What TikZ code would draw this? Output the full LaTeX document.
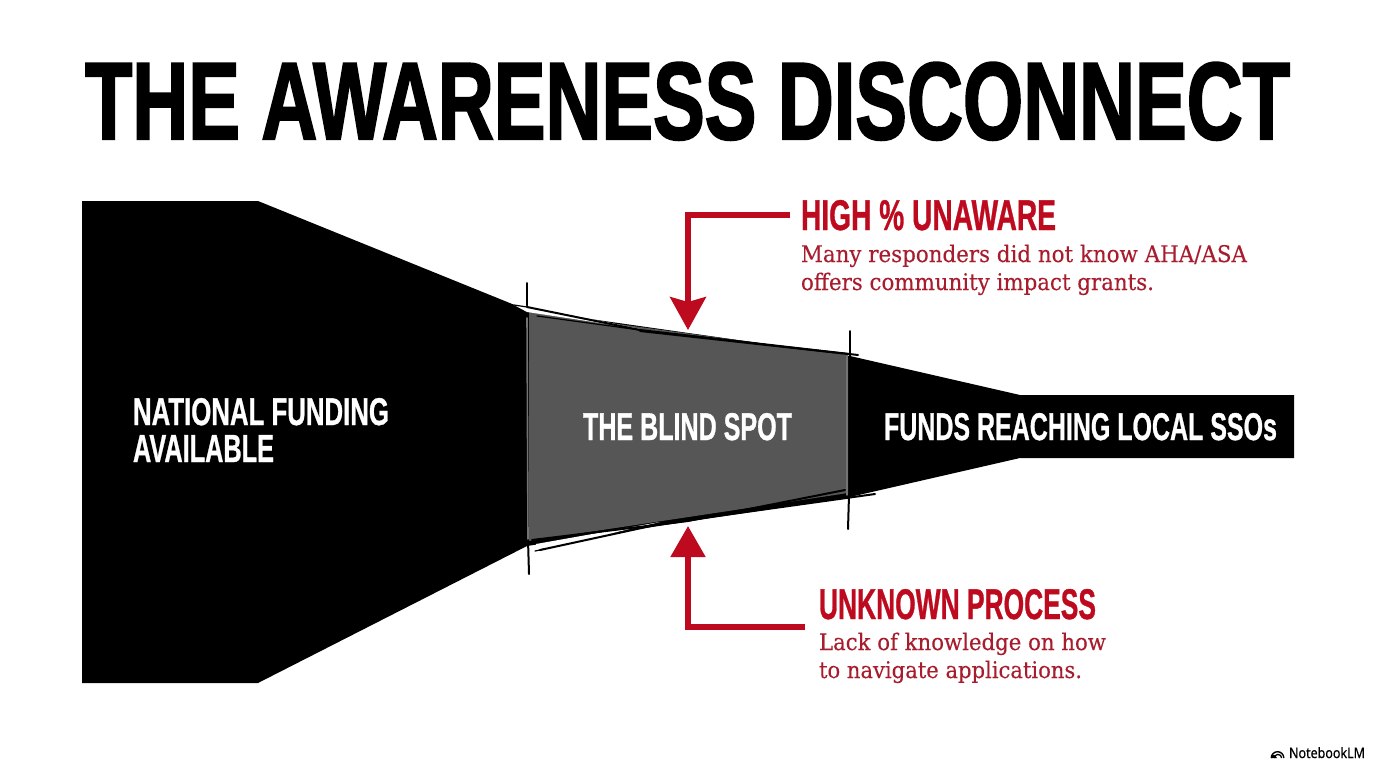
\documentclass[tikz,border=0pt]{standalone}
\usepackage{fontspec}
\usepackage{graphicx}
\usetikzlibrary{arrows.meta}
\setmainfont{Liberation Sans}
\newfontfamily\heavyfont[FakeBold=2.2]{Liberation Sans Bold}
\newfontfamily\headfont[FakeBold=1.0]{Liberation Sans Bold}
\newfontfamily\slabfont[FakeBold=0.25]{DejaVu Serif}
\newfontfamily\markfont[FakeBold=0.35]{Noto Sans}
\definecolor{accentred}{HTML}{BE0A1E}
\definecolor{bodyred}{HTML}{A81D2E}
\definecolor{blindgray}{HTML}{565656}
\newcommand\fitbox[3]{\resizebox{#1bp}{#2bp}{#3}}
\newcommand\fitwide[2]{\resizebox{#1bp}{\height}{#2}}
\tikzset{
  x=1bp,y=-1bp,
  lbl/.style={inner sep=0pt,outer sep=0pt,anchor=base west},
  titletext/.style={lbl,text=black,font=\heavyfont\fontsize{60}{60}\selectfont},
  funneltext/.style={lbl,text=white,font=\headfont\fontsize{30}{30}\selectfont},
  headtext/.style={lbl,text=accentred,font=\headfont\fontsize{30}{30}\selectfont},
  bodytext/.style={lbl,text=bodyred,font=\slabfont\fontsize{23}{23}\selectfont},
  callout/.style={draw=accentred,line width=5.2bp,line join=miter},
  arrowdown/.style={callout,-{Stealth[length=33bp,width=36bp,inset=5bp,fill=accentred]}},
  arrowup/.style={callout,-{Stealth[length=31bp,width=34bp,inset=0bp,fill=accentred]}},
  sketch/.style={draw=black,line width=2bp,line cap=round},
  sketchfine/.style={draw=black,line width=1.2bp,line cap=round},
  sketchpale/.style={draw=black!55,line width=1.6bp,line cap=round}
}
\begin{document}
\begin{tikzpicture}
\useasboundingbox (0,0) rectangle (1376,768);
\fill[white] (0,0) rectangle (1376,768);

% title
\node[titletext] (title) at (85,139) {\fitbox{1205}{76.5}{THE AWARENESS DISCONNECT}};

% funnel
\fill[black] (82,201) -- (258,201) -- (527,310) -- (850,356) -- (1020,395) -- (1294,395)
  -- (1294,458) -- (1020,458) -- (850,497) -- (527,546) -- (258,683) -- (82,683) -- cycle;
\fill[blindgray] (529,312) -- (848,355) -- (848,493) -- (529,541) -- cycle;

% sketch strokes of the blind spot
\draw[sketch] (527,283) -- (527,318);
\draw[sketchpale] (527,318) -- (528,540);
\draw[sketch] (528,540) -- (529,574);
\draw[sketch] (850,331) -- (850,356);
\draw[sketchpale] (847,356) -- (847,495);
\draw[sketch] (849,495) -- (848,529);
\fill[white] (514,305) -- (527,306) -- (640,329) -- (527,312) -- cycle;
\draw[sketch] (527,307) -- (640,330) -- (858,355);
\draw[sketchfine] (514,305) -- (527,307);
\draw[sketchfine] (537,316) -- (640,330);
\draw[sketch] (640,331) -- (848,354);
\fill[white] (536,551) -- (660,522) -- (536,544) -- cycle;
\draw[sketch] (532,540) -- (688,521) -- (845,490);
\draw[sketch] (540,550) -- (660,524) -- (875,494);
\draw[sketchfine] (535,551) -- (545,549);

% funnel labels
\node[funneltext] (national) at (133,425) {\fitbox{256}{27}{NATIONAL FUNDING}};
\node[funneltext] (available) at (133,462) {\fitbox{141}{27}{AVAILABLE}};
\node[funneltext] (blind) at (583,440) {\fitbox{209}{27}{THE BLIND SPOT}};
\node[funneltext] (funds) at (884,440) {\fitbox{393}{27}{FUNDS REACHING LOCAL SSOs}};

% callout labels
\node[headtext] (high) at (801,230) {\fitbox{255}{30}{HIGH \% UNAWARE}};
\node[bodytext] (highA) at (801,262) {\fitwide{446}{Many responders did not know AHA/ASA}};
\node[bodytext] (highB) at (801,290) {\fitwide{353}{offers community impact grants.}};
\node[headtext] (unknown) at (819,619) {\fitbox{277}{30}{UNKNOWN PROCESS}};
\node[bodytext] (unknownA) at (819,650) {\fitwide{287}{Lack of knowledge on how}};
\node[bodytext] (unknownB) at (819,678) {\fitwide{263}{to navigate applications.}};

% callout connectors
\coordinate (highstart) at (790,215);
\coordinate (hightip) at (688,330);
\coordinate (unknownstart) at (805,627);
\coordinate (unknowntip) at (688,526);
\draw[arrowdown] (highstart) -| (hightip);
\draw[arrowup] (unknownstart) -| (unknowntip);

% watermark
\draw[black,line width=1.4bp] (1271.2,758) arc[start angle=180,end angle=360,radius=6.3];
\draw[black,line width=1.3bp] (1274.4,758) arc[start angle=180,end angle=360,radius=3.6];
\fill[black] (1271,758) .. controls (1271.5,754) and (1275,753.5) .. (1277,758) -- cycle;
\node[lbl,text=black,font=\markfont\fontsize{14.5}{14.5}\selectfont] (mark) at (1289,758) {\fitwide{76}{NotebookLM}};
\end{tikzpicture}
\end{document}
